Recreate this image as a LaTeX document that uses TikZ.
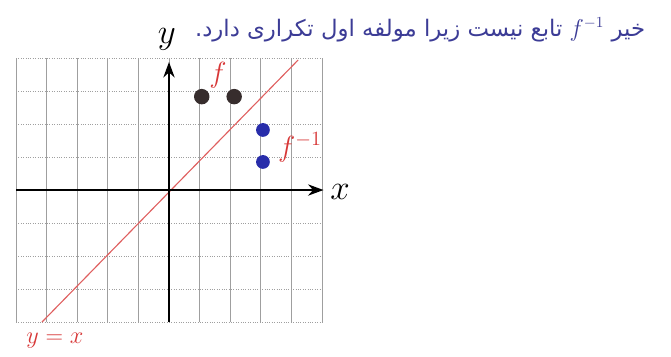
\documentclass[tikz,border=0pt]{standalone}
\usepackage{fontspec}
\usepackage{tikz}
\usetikzlibrary{arrows.meta}
\newfontfamily\persianfont[Script=Arabic]{DejaVu Sans}
\TeXXeTstate=1
\definecolor{inkred}{RGB}{215,55,55}
\definecolor{inkblue}{RGB}{40,45,170}
\definecolor{inkdark}{RGB}{55,45,45}
\definecolor{inktext}{RGB}{60,60,150}

\tikzset{
	gridv/.style={gray!75, line width=0.6pt},
	gridh/.style={gray!75, line width=0.7pt, densely dotted},
	axis/.style={line width=1.6pt, -{Stealth[length=11pt, width=8pt]}},
	fdot/.style={circle, fill=inkdark, minimum size=11pt, inner sep=0pt},
	gdot/.style={circle, fill=inkblue, minimum size=9.8pt, inner sep=0pt},
	redlabel/.style={text=inkred, font=\fontsize{20}{22}\selectfont},
	axislabel/.style={font=\fontsize{24}{26}\selectfont},
}

\begin{document}
\begin{tikzpicture}[x=0.765cm, y=0.825cm]
	\useasboundingbox (-5.523,-5.030) rectangle (16.405,5.758);

	% Grid:
	\foreach \i in {-5,...,5} \draw[gridv] (\i,-4) -- (\i,4);
	\foreach \j in {-4,...,4} \draw[gridh] (-5,\j) -- (5,\j);

	% Coordinates:
	\coordinate (xstart) at (-5,0);
	\coordinate (xend) at (5.05,0);
	\coordinate (ystart) at (0,-4);
	\coordinate (yend) at (0,3.88);
	\coordinate (dlow) at (-4.15,-4);
	\coordinate (dhigh) at (4.22,3.94);

	% Lines:
	\draw[inkred!80, line width=0.8pt] (dlow) -- (dhigh);
	\draw[axis] (xstart) -- (xend);
	\draw[axis] (ystart) -- (yend);

	% Nodes:
	\node[fdot] (f1) at (1.07,2.83) {};
	\node[fdot] (f2) at (2.13,2.83) {};
	\node[gdot] (g1) at (3.07,1.82) {};
	\node[gdot] (g2) at (3.07,0.85) {};

	% Labels
	\node[redlabel] (lf) at (1.60,3.48) {$f$};
	\node[redlabel] (lfinv) at (4.28,1.30) {$f^{-1}$};
	\node[axislabel] (ly) at (-0.07,4.55) {$y$};
	\node[axislabel] (lx) at (5.59,-0.06) {$x$};
	\node[text=inkred, font=\fontsize{17}{20}\selectfont] (lyx) at (-3.73,-4.55) {$y=x$};
	\node[text=inktext, anchor=east, font=\persianfont\fontsize{16.2}{18}\selectfont] (note) at (15.72,4.85)
		{\beginR خیر \beginL$f^{-1}$\endL{} تابع نیست زیرا مولفه اول تکراری دارد.\endR};

\end{tikzpicture}
\end{document}
